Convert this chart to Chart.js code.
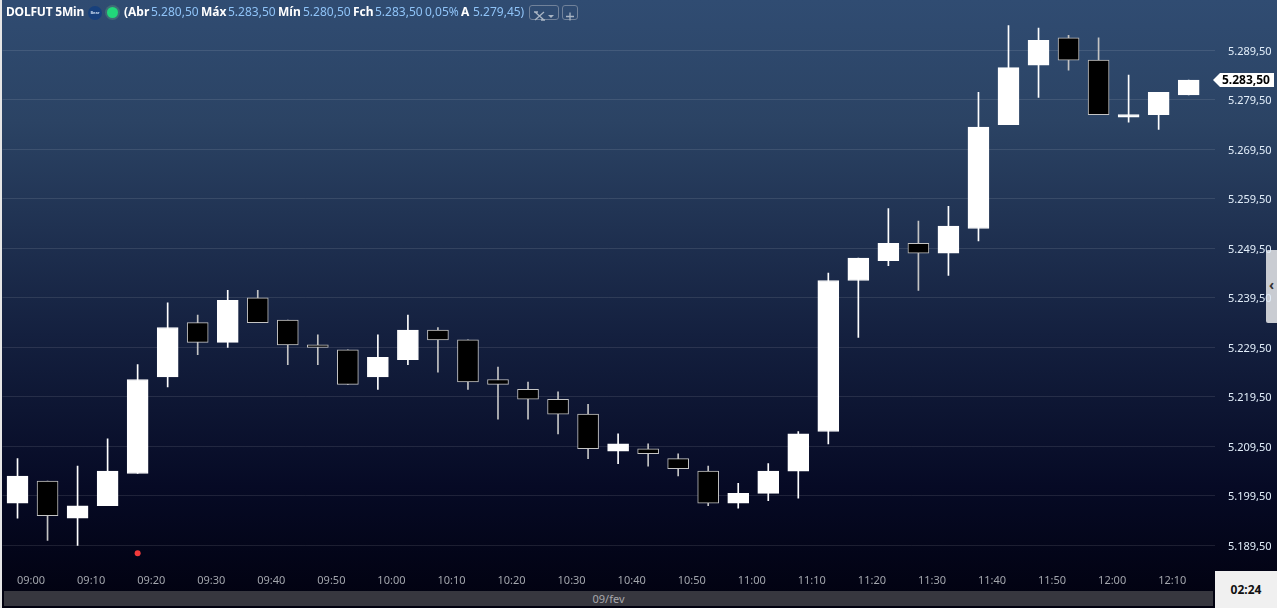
<!DOCTYPE html>
<html>
<head>
<meta charset="utf-8">
<title>DOLFUT 5Min</title>
<script src="https://cdn.jsdelivr.net/npm/chart.js@4"></script>
<style>
html, body { margin: 0; padding: 0; background: #01010f; overflow: hidden; }
#wrap { position: relative; width: 1277px; height: 608px; overflow: hidden;
    font-family: "Noto Sans", sans-serif;
    background: linear-gradient(to bottom, #304c72 0%, #2b4364 20%, #14203f 55%, #060a25 80%, #01010f 100%); }
#edge { position: absolute; left: 0; top: 0; width: 2px; height: 608px; background: #e6e6e6; }
#handle { position: absolute; left: 1266px; top: 250px; width: 11px; height: 73px; background: #c9ccd2; border-radius: 2px 0 0 2px; }
#handle span { position: absolute; left: 3px; top: 29px; font-size: 14px; font-weight: bold; color: #333; line-height: 12px; }
#myChart { position: absolute; left: 0; top: 0; }
#dateBar { position: absolute; left: 4px; top: 591px; width: 1209px; height: 15px; background: #37373f;
    color: #a8a8ac; font-size: 11px; line-height: 15px; text-align: center; }
#clock { position: absolute; left: 1215px; top: 571px; width: 62px; height: 37px; background: #f0f0f0;
    color: #111; font-size: 12px; font-weight: bold; line-height: 38px; text-align: center; }
.hd { position: absolute; top: 3px; font-size: 12px; line-height: 18px; white-space: nowrap; }
.btn { position: absolute; top: 5px; height: 13px; border: 1px solid #71829a; border-radius: 3px; color: #a9b5c4; }
#bear { position: absolute; left: 88px; top: 6px; width: 14px; height: 14px; border-radius: 50%; background: #17407c;
    color: #c6d8ee; font-size: 4px; line-height: 14px; text-align: center; font-weight: bold; }
#live { position: absolute; left: 107px; top: 7px; width: 11px; height: 11px; border-radius: 50%; background: #22d77a;
    box-shadow: 0 0 0 2px rgba(70, 120, 120, 0.7); }
</style>
</head>
<body>
<div id="wrap">
    <div id="handle"><span>‹</span></div>
    <canvas id="myChart" width="1277" height="608"></canvas>
    <div id="edge"></div>
    <div id="bear">Bear</div>
    <div id="live"></div>
    <div class="btn" style="left:529px;width:28px;">
        <svg width="28" height="13"><path d="M5 2 L14 10 M14 2 L5 10 M4 2 H8 M11 10 H15" stroke="#a9b5c4" stroke-width="1.3" fill="none"/><path d="M18 5 H24 L21 8 Z" fill="#a9b5c4"/></svg>
    </div>
    <div class="btn" style="left:562px;width:14px;">
        <svg width="14" height="13"><path d="M7 2.5 V10.5 M3 6.5 H11" stroke="#a9b5c4" stroke-width="1.3"/></svg>
    </div>
    <div id="dateBar">09/fev</div>
    <div id="clock">02:24</div>
</div>
<script>
var labels = ['09:00','09:05','09:10','09:15','09:20','09:25','09:30','09:35','09:40','09:45',
    '09:50','09:55','10:00','10:05','10:10','10:15','10:20','10:25','10:30','10:35',
    '10:40','10:45','10:50','10:55','11:00','11:05','11:10','11:15','11:20','11:25',
    '11:30','11:35','11:40','11:45','11:50','11:55','12:00','12:05','12:10','12:15'];

var opens = [5198,5202.5,5195,5197.5,5204,5223.5,5234.5,5230.5,5239.5,5235,
    5230,5229,5223.5,5227,5233,5231,5223,5221,5219,5216,
    5208.5,5209,5207,5204.5,5198,5200,5204.5,5212.5,5243,5247,
    5250.5,5248.5,5253.5,5274.5,5286.5,5292,5287.5,5276,5276.5,5280.5];
var highs = [5207,5202.5,5205.5,5211,5226,5238.5,5236,5241,5241,5235,
    5232,5229,5232,5236,5233.5,5231,5225.5,5222.5,5220.5,5218,
    5212,5210,5208,5205.5,5202,5206,5212.5,5244.5,5247.5,5257.5,
    5255,5258,5281,5294.5,5294,5292.5,5292,5284.5,5281,5283.5];
var lows = [5195,5190.5,5189.5,5197.5,5204,5221.5,5228,5229.5,5234.5,5226,
    5226,5222,5221,5226,5224.5,5221,5215,5215,5212,5207,
    5206,5205.5,5203.5,5197.5,5197,5198.5,5199,5210,5231.5,5246,
    5241,5244,5251,5274.5,5280,5285.5,5276.5,5275,5273.5,5280.5];
var closes = [5203.5,5195.5,5197.5,5204.5,5223,5233.5,5230.5,5239,5234.5,5230,
    5229.5,5222,5227.5,5233,5231,5222.5,5222,5219,5216,5209,
    5210,5208,5205,5198,5200,5204.5,5212,5243,5247.5,5250.5,
    5248.5,5254,5274,5286,5291.5,5287.5,5276.5,5276.5,5281,5283.5];

var priceTicks = [5189.5,5199.5,5209.5,5219.5,5229.5,5239.5,5249.5,5259.5,5269.5,5279.5,5289.5];
var signalIndex = [4];
var signalValues = [5187.9];
var lastPrice = 5283.5;

// header text: text, left, colour, bold
var headerParts = [
    ['DOLFUT 5Min', 6, '#ffffff', true],
    ['(Abr', 124, '#ffffff', true],
    ['5.280,50', 151, '#8fc3f7', false],
    ['Máx', 201, '#ffffff', true],
    ['5.283,50', 228, '#8fc3f7', false],
    ['Mín', 278, '#ffffff', true],
    ['5.280,50', 303, '#8fc3f7', false],
    ['Fch', 353, '#ffffff', true],
    ['5.283,50', 375, '#8fc3f7', false],
    ['0,05%', 425, '#8fc3f7', false],
    ['A', 461, '#ffffff', true],
    ['5.279,45)', 473, '#8fc3f7', false]
];

headerParts.forEach(function (p, i) {
    var el = document.createElement('div');
    el.className = 'hd';
    el.textContent = p[0];
    el.style.left = p[1] + 'px';
    el.style.color = p[2];
    el.style.fontWeight = p[3] ? 'bold' : 'normal';
    if (i === 0) el.style.letterSpacing = '-0.2px';
    document.getElementById('wrap').appendChild(el);
});

function formatPrice(v) {
    return v.toLocaleString('pt-BR', { minimumFractionDigits: 2, maximumFractionDigits: 2 });
}

function isUp(i) {
    return closes[i] >= opens[i];
}

var wickData = labels.map(function (l, i) { return { x: i, y: [lows[i], highs[i]] }; });
var bodyData = labels.map(function (l, i) { return { x: i, y: [opens[i], closes[i]] }; });
var signalData = signalIndex.map(function (x, i) { return { x: x, y: signalValues[i] }; });

// little white arrow tag with the last price
var priceTag = {
    id: 'priceTag',
    afterDraw: function (chart) {
        var ctx = chart.ctx;
        var y = Math.round(chart.scales.y.getPixelForValue(lastPrice));
        ctx.save();
        ctx.fillStyle = '#ffffff';
        ctx.beginPath();
        ctx.moveTo(1213, y);
        ctx.lineTo(1220, y - 7);
        ctx.lineTo(1274, y - 7);
        ctx.lineTo(1274, y + 7);
        ctx.lineTo(1220, y + 7);
        ctx.closePath();
        ctx.fill();
        ctx.fillStyle = '#000000';
        ctx.font = 'bold 12px "Noto Sans"';
        ctx.textAlign = 'left';
        ctx.textBaseline = 'middle';
        ctx.fillText(formatPrice(lastPrice), 1222, y + 1);
        ctx.restore();
    }
};

var ctx = document.getElementById('myChart').getContext('2d');

var myChart = new Chart(ctx, {
    type: 'bar',
    data: {
        datasets: [{
            type: 'scatter',
            data: signalData,
            backgroundColor: '#f23a3a',
            borderWidth: 0,
            pointRadius: 3,
            order: 0
        }, {
            data: bodyData,
            grouped: false,
            barThickness: 21,
            backgroundColor: labels.map(function (l, i) { return isUp(i) ? '#ffffff' : '#000000'; }),
            borderColor: labels.map(function (l, i) { return isUp(i) ? '#ffffff' : '#c4c4c4'; }),
            borderWidth: 1,
            borderSkipped: false,
            order: 1
        }, {
            data: wickData,
            grouped: false,
            barThickness: 1,
            backgroundColor: labels.map(function (l, i) { return isUp(i) ? '#ffffff' : '#c4c4c4'; }),
            borderWidth: 0,
            order: 2
        }]
    },
    options: {
        responsive: false,
        animation: false,
        layout: { autoPadding: false, padding: { left: 2.5, top: 0, right: 0, bottom: 0 } },
        plugins: { legend: { display: false }, tooltip: { enabled: false } },
        scales: {
            x: {
                type: 'linear',
                offset: false,
                min: -0.5,
                max: 39.86,
                afterFit: function (scale) {
                    scale.height = 41;
                    scale.paddingLeft = 0;
                    scale.paddingRight = 0;
                },
                afterBuildTicks: function (scale) {
                    scale.ticks = labels.map(function (l, i) { return { value: i }; }).filter(function (t) { return t.value % 2 === 0; });
                },
                grid: { display: false, drawTicks: false },
                border: { display: false },
                ticks: {
                    align: 'start',
                    autoSkip: false,
                    maxRotation: 0,
                    padding: 7,
                    labelOffset: -0.5,
                    color: '#a3a6ad',
                    font: { family: 'Noto Sans', size: 11 },
                    callback: function (v) { return labels[v]; }
                }
            },
            y: {
                position: 'right',
                min: 5185.12,
                max: 5299.66,
                afterFit: function (scale) {
                    scale.width = 62.5;
                    scale.paddingTop = 0;
                    scale.paddingBottom = 0;
                },
                afterBuildTicks: function (scale) {
                    scale.ticks = priceTicks.map(function (v) { return { value: v }; });
                },
                grid: { color: 'rgba(255,255,255,0.1)', lineWidth: 1, drawTicks: false },
                border: { display: false },
                ticks: {
                    padding: 13.5,
                    labelOffset: 1.5,
                    color: '#e2eefa',
                    font: { family: 'Noto Sans', size: 11 },
                    callback: function (v) { return formatPrice(v); }
                }
            }
        }
    },
    plugins: [priceTag]
});
</script>
</body>
</html>
